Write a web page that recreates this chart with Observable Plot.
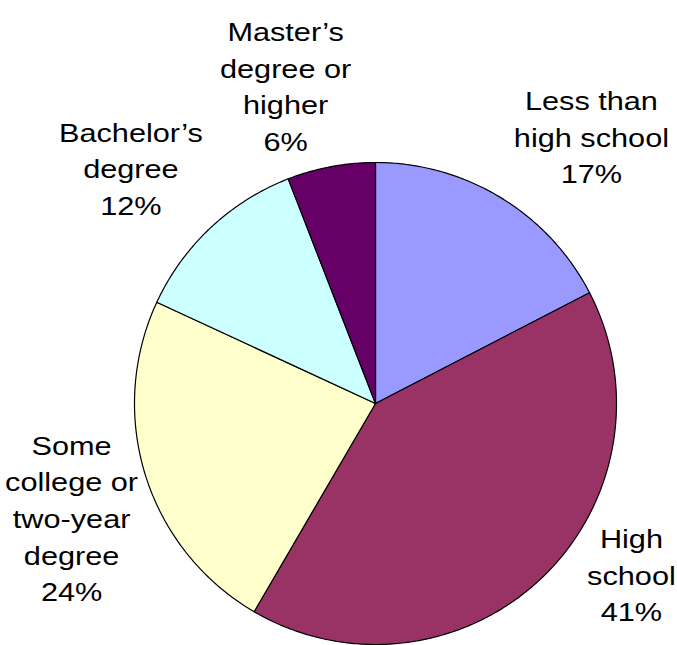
<!DOCTYPE html>
<html>
<head>
<meta charset="utf-8">
<script src="https://cdn.jsdelivr.net/npm/d3@7"></script>
<script src="https://cdn.jsdelivr.net/npm/@observablehq/plot@0.6"></script>
<style>
  html, body { margin: 0; padding: 0; background: #fff; }
  svg { display: block; }
</style>
</head>
<body>
<div id="chart"></div>
<script>
// ---- data ----
const categories = ["Less than high school", "High school", "Some college or two-year degree", "Bachelor’s degree", "Master’s degree or higher"];
const labelTexts = ["Less than\nhigh school", "High\nschool", "Some\ncollege or\ntwo-year\ndegree", "Bachelor’s\ndegree", "Master’s\ndegree or\nhigher"];
const shares = [17.4, 41.0, 23.5, 12.2, 5.9];      // slice sizes
const shareLabels = [17, 41, 24, 12, 6];            // percentages as printed
const colors = ["#9999FF", "#993366", "#FFFFCC", "#CCFFFF", "#660066"];

// ---- layout (label anchors in radius units, relative to pie centre) ----
const labelAnchors = [
  [0.896, 1.326],
  [1.062, -0.492],
  [-1.261, -0.104],
  [-1.015, 1.195],
  [-0.373, 1.612]
];

const slices = d3.pie().sort(null).value(d => d)(shares);
const points = [];
slices.forEach((s, i) => {
  const cat = categories[i];
  points.push({cat, x: 0, y: 0});
  const n = Math.max(2, Math.ceil((s.endAngle - s.startAngle) / 0.01));
  for (let k = 0; k <= n; k++) {
    const a = s.startAngle + (s.endAngle - s.startAngle) * k / n;
    points.push({cat, x: Math.sin(a), y: Math.cos(a)});
  }
  points.push({cat, x: 0, y: 0});
});

const labels = categories.map((c, i) => ({
  cat: c,
  text: labelTexts[i] + "\n" + shareLabels[i] + "%",
  x: labelAnchors[i][0],
  y: labelAnchors[i][1]
}));

const chart = Plot.plot({
  width: 677,
  height: 645,
  margin: 0,
  style: {background: "#fff"},
  x: {domain: [-1, 1], range: [134, 616], axis: null},
  y: {domain: [-1, 1], range: [644, 162], axis: null},
  color: {domain: categories, range: colors},
  marks: [
    Plot.line(points, {x: "x", y: "y", z: "cat", fill: "cat", stroke: "black", strokeWidth: 1.2, strokeLinejoin: "round"}),
    Plot.text(labels, {
      x: "x", y: "y", text: "text",
      textAnchor: "middle", lineAnchor: "top", lineHeight: 1.41,
      fontSize: 26, fontFamily: "Liberation Sans, Arial, sans-serif", fill: "black"
    })
  ]
});

chart.querySelectorAll("text").forEach(t => {
  const tr = t.getAttribute("transform") || "";
  t.setAttribute("transform", tr + " scale(1.18,1)");
});

document.getElementById("chart").appendChild(chart);
</script>
</body>
</html>
